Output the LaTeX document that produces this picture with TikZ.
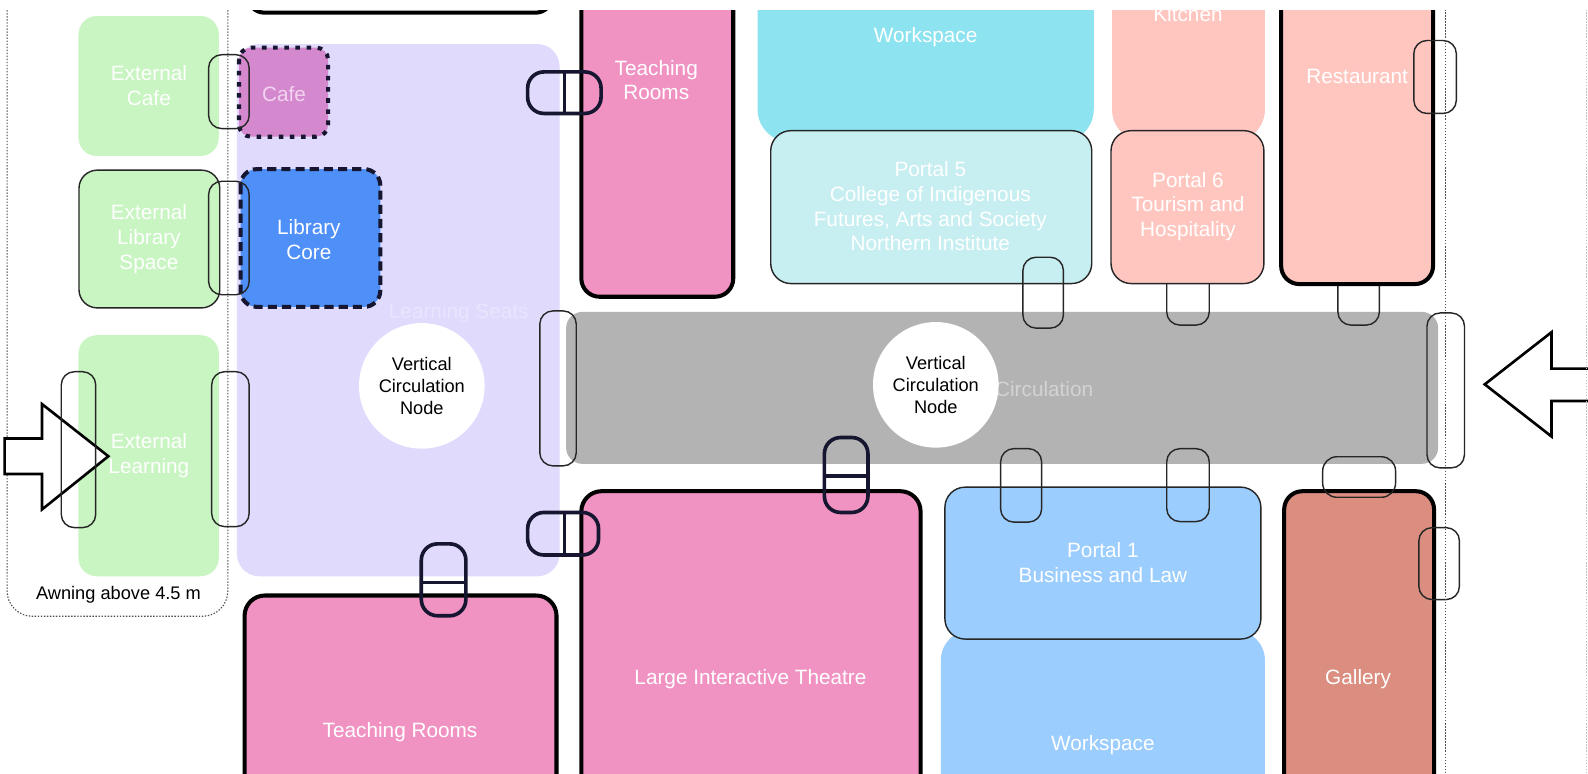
\documentclass[tikz,border=0pt]{standalone}
\usepackage{fontspec}
\setmainfont{Liberation Sans}
\definecolor{green1}{HTML}{C8F5C1}
\definecolor{lav}{HTML}{E0DAFD}
\definecolor{cafec}{HTML}{D488CE}
\definecolor{libblue}{HTML}{4E8FF8}
\definecolor{pinkroom}{HTML}{F093C3}
\definecolor{cyan1}{HTML}{8DE4F0}
\definecolor{cyan2}{HTML}{C7EEF0}
\definecolor{salmon}{HTML}{FFC6C0}
\definecolor{circgray}{HTML}{B3B3B3}
\definecolor{blue2}{HTML}{9BCDFE}
\definecolor{terra}{HTML}{DB8E80}
\definecolor{navy}{HTML}{161630}
\definecolor{lsText}{HTML}{E9E5FE}
\definecolor{circText}{HTML}{D3D3D3}
\definecolor{cafeText}{HTML}{F3D3F0}
\begin{document}
\begin{tikzpicture}[x=1pt,y=-1pt,
  lbl/.style={inner sep=0pt, align=center, text=white, font=\fontsize{20.5}{24.5}\selectfont},
  oneline/.style={yshift=-2pt},
  smalllbl/.style={inner sep=0pt, align=center, text=black, font=\fontsize{18}{21.7}\selectfont},
  thickb/.style={draw=black, line width=4pt},
  thinb/.style={draw=black!85, line width=1.4pt},
  door/.style={draw=black!85, line width=1.4pt, rounded corners=13pt},
  doorthick/.style={draw=navy, line width=3.6pt, rounded corners=16pt},
  divider/.style={draw=navy, line width=3pt},
  dotline/.style={draw=black!70, line width=1.1pt, dash pattern=on 1.4pt off 1.6pt},
  blockarrow/.style={draw=black, line width=2.6pt, fill=white, line join=miter}
]
\useasboundingbox (0,0) rectangle (1568,764);
\clip (0,0) rectangle (1568,764);
\fill[white] (0,0) rectangle (1568,764);

% awning zone
\draw[dotline, rounded corners=25pt] (7,-30) rectangle (225,608.5);
\node[smalllbl, oneline] (awning) at (117,585.7) {Awning above 4.5 m};

% top partial room
\draw[thickb, fill=white, rounded corners=16pt] (245,-60) rectangle (545,12.5);

% external spaces
\fill[green1, rounded corners=18pt] (77.5,15.8) rectangle (216,154);
\node[lbl] (extcafe) at (147,84.4) {External\\Cafe};
\draw[thinb, fill=green1, rounded corners=18pt] (78,168) rectangle (217,304);
\node[lbl] (extlib) at (147,236) {External\\Library\\Space};
\fill[green1, rounded corners=18pt] (77.5,331) rectangle (216,569);
\node[lbl] (extlearn) at (147,449.7) {External\\Learning};

% learning seats
\fill[lav, rounded corners=22pt] (234,43.5) rectangle (552.5,569);
\node[lbl, oneline, text=lsText] (seats) at (453,307) {Learning Seats};

% cafe and library core
\draw[fill=cafec, draw=navy, line width=4pt, dash pattern=on 4.5pt off 6.5pt, rounded corners=12pt] (236,47) rectangle (324,135);
\node[lbl, oneline, text=cafeText] (cafe) at (280.4,91) {Cafe};
\draw[fill=libblue, draw=navy, line width=4pt, dash pattern=on 9pt off 5pt, rounded corners=16pt] (237.5,167) rectangle (375.5,303);
\node[lbl] (libcore) at (305,236.6) {Library\\Core};

% vertical circulation node 1
\fill[white] (416.5,381) circle (62);
\node[smalllbl] (vcn1) at (416.5,381) {Vertical\\Circulation\\Node};

% circulation spine
\fill[circgray, rounded corners=16pt] (559,308) rectangle (1420,458);
\node[lbl, oneline, text=circText] (circ) at (1031,382) {Circulation};
\fill[white] (924,380) circle (62);
\node[smalllbl] (vcn2) at (924,380) {Vertical\\Circulation\\Node};

% top row rooms
\draw[thickb, fill=pinkroom, rounded corners=18pt] (574,-30) rectangle (724,293);
\node[lbl] (teachtop) at (648,79) {Teaching\\Rooms};
\fill[cyan1, rounded corners=32pt] (748,-30) rectangle (1080,140);
\node[lbl, oneline] (wstop) at (914,34.5) {Workspace};
\draw[thinb, fill=cyan2, rounded corners=20pt] (761,129) rectangle (1078,280);
\node[lbl] (portal5) at (918.6,203.6) {Portal 5\\College of Indigenous\\Futures, Arts and Society\\Northern Institute};
\fill[salmon, rounded corners=32pt] (1098,-30) rectangle (1249,140);
\node[lbl, oneline] (kitchen) at (1173,12) {Kitchen};
\draw[door] (1152,240) rectangle (1194,321);
\draw[door] (1321,240) rectangle (1362,321);
\draw[thinb, fill=salmon, rounded corners=20pt] (1097,129) rectangle (1248,280);
\node[lbl] (portal6) at (1173,204) {Portal 6\\Tourism and\\Hospitality};
\draw[thickb, fill=salmon, rounded corners=18pt] (1265,-30) rectangle (1415,280.5);
\node[lbl, oneline] (restaurant) at (1340,73) {Restaurant};

% bottom row rooms
\draw[thickb, fill=pinkroom, rounded corners=20pt] (574,485) rectangle (909,820);
\node[lbl, oneline] (theatre) at (741,669) {Large Interactive Theatre};
\draw[thickb, fill=pinkroom, rounded corners=20pt] (241.5,588) rectangle (549.5,820);
\node[lbl, oneline] (teachbot) at (395,721) {Teaching Rooms};
\fill[blue2, rounded corners=30pt] (929,622) rectangle (1249,820);
\node[lbl, oneline] (wsbot) at (1089,733.8) {Workspace};
\draw[thinb, fill=blue2, rounded corners=20pt] (933,481) rectangle (1245,631);
\node[lbl] (portal1) at (1089,555.5) {Portal 1\\Business and Law};
\draw[thickb, fill=terra, rounded corners=18pt] (1268,485) rectangle (1416,820);
\node[lbl, oneline] (gallery) at (1341,669) {Gallery};

% entry arrows
\draw[blockarrow] (4.6,433) -- (41.5,433) -- (41.5,399) -- (107,450.5) -- (41.5,503) -- (41.5,468) -- (4.6,468) -- cycle;
\draw[blockarrow] (1580,364) -- (1532,364) -- (1532,328) -- (1466,379.5) -- (1532,431) -- (1532,396) -- (1580,396) -- cycle;

% doors (thin)
\draw[door] (206,54) rectangle (246,127);
\draw[door] (206,179) rectangle (246,291);
\draw[door] (60.5,367) rectangle (94.5,521);
\draw[door] (209,367) rectangle (246,520);
\draw[door] (533,307) rectangle (569,460);
\draw[door] (1010,254) rectangle (1050,324);
\draw[door] (1396,40) rectangle (1438,112);
\draw[door] (1409,309) rectangle (1446,462);
\draw[door] (988,443) rectangle (1028.5,515.5);
\draw[door] (1152,443) rectangle (1194,515);
\draw[door, rounded corners=14pt] (1306,451) rectangle (1378,491);
\draw[door] (1401,521) rectangle (1441,592);

% doors (thick, double)
\draw[doorthick] (521,71) rectangle (593.5,112);
\draw[divider] (557.5,71) -- (557.5,112);
\draw[doorthick] (521,506) rectangle (591,548);
\draw[divider] (557.5,506) -- (557.5,548);
\draw[doorthick] (416,537) rectangle (460,608);
\draw[divider] (416,575.5) -- (460,575.5);
\draw[doorthick] (814,432) rectangle (857,506);
\draw[divider] (814,470) -- (857,470);

% site lines
\draw[dotline] (1427,0) -- (1427,764);
\draw[dotline, draw=black!25] (1566.5,0) -- (1566.5,764);

% cropped top edge
\fill[white] (-1,-1) rectangle (1569,9.9);
\end{tikzpicture}
\end{document}
